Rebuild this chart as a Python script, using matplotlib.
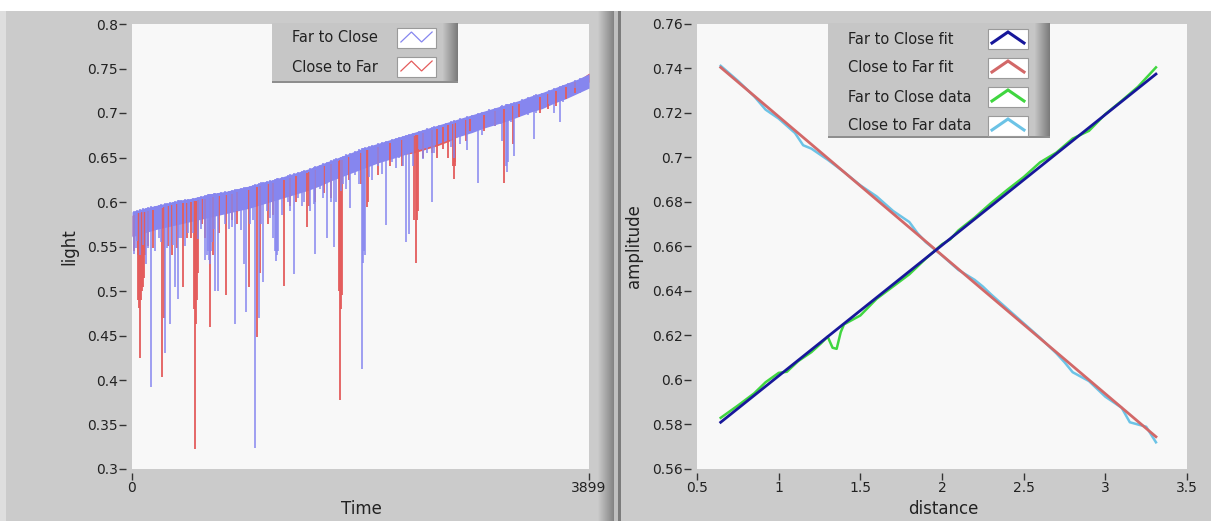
import numpy as np
import matplotlib
matplotlib.use('Agg')
import matplotlib.pyplot as plt
from matplotlib.patches import Rectangle
from matplotlib.lines import Line2D
from matplotlib.ticker import FormatStrFormatter

W, H = 1211, 521

# ---------------- left chart: light vs Time ----------------
band_t = list(range(0, 3900, 100)) + [3899]
# dense oscillation band (upper / lower edge)
f2c_top = [0.589, 0.593, 0.596, 0.599, 0.602, 0.604, 0.607, 0.610, 0.612, 0.615,
           0.618, 0.622, 0.625, 0.629, 0.633, 0.637, 0.642, 0.647, 0.652, 0.657,
           0.662, 0.666, 0.670, 0.674, 0.678, 0.682, 0.686, 0.690, 0.694, 0.698,
           0.702, 0.706, 0.710, 0.714, 0.719, 0.723, 0.728, 0.733, 0.738, 0.744]
f2c_low = [0.561, 0.565, 0.569, 0.572, 0.575, 0.578, 0.581, 0.584, 0.587, 0.590,
           0.593, 0.597, 0.601, 0.605, 0.609, 0.613, 0.618, 0.624, 0.629, 0.634,
           0.639, 0.644, 0.648, 0.652, 0.657, 0.661, 0.665, 0.670, 0.674, 0.678,
           0.683, 0.687, 0.691, 0.696, 0.701, 0.705, 0.711, 0.716, 0.722, 0.728]
c2f_top = [0.585, 0.589, 0.592, 0.595, 0.598, 0.600, 0.603, 0.606, 0.608, 0.611,
           0.614, 0.618, 0.621, 0.625, 0.629, 0.633, 0.638, 0.643, 0.648, 0.653,
           0.658, 0.662, 0.666, 0.670, 0.674, 0.678, 0.682, 0.686, 0.690, 0.694,
           0.698, 0.702, 0.706, 0.710, 0.715, 0.719, 0.724, 0.729, 0.736, 0.745]
c2f_low = [0.562, 0.566, 0.570, 0.573, 0.576, 0.579, 0.582, 0.585, 0.588, 0.591,
           0.594, 0.598, 0.602, 0.606, 0.610, 0.614, 0.619, 0.625, 0.630, 0.635,
           0.640, 0.645, 0.649, 0.653, 0.655, 0.659, 0.663, 0.668, 0.675, 0.679,
           0.684, 0.688, 0.692, 0.697, 0.702, 0.706, 0.712, 0.717, 0.723, 0.735]

# downward spikes (time, minimum)
f2c_dip_t = [17, 45, 120, 165, 200, 230, 279, 300, 324, 365, 393, 420, 450, 480,
             590, 620, 650, 664, 680, 707, 730, 760, 830, 878, 900, 952, 975, 1010,
             1046, 1080, 1117, 1150, 1200, 1231, 1245, 1330, 1379, 1420, 1470, 1520,
             1565, 1600, 1665, 1722, 1740, 1800, 1864, 1900, 1964, 1975, 2050, 2100,
             2163, 2220, 2280, 2334, 2363, 2400, 2450, 2520, 2560, 2620, 2680, 2750,
             2856, 2900, 2955, 3050, 3100, 3161, 3198, 3260, 3330, 3426, 3500, 3560,
             3600, 3654, 3720, 3780,
             30, 70, 95, 140, 250, 350, 400, 520, 560, 700, 790, 850, 930, 1030,
             1100, 1180, 1280, 1350, 1450, 1550, 1630, 1700, 1780, 1830, 1940, 2020,
             2130, 2250, 2310, 2480, 2580, 2720, 2800, 2990, 3150, 3230, 3380, 3450,
             3680, 3820,
             640, 657, 672, 1222, 1238, 1983, 1992, 3190, 3207]
f2c_dip_v = [0.542, 0.556, 0.530, 0.392, 0.545, 0.560, 0.430, 0.548, 0.463, 0.504,
             0.491, 0.560, 0.550, 0.565, 0.570, 0.535, 0.545, 0.530, 0.555, 0.500,
             0.500, 0.585, 0.570, 0.463, 0.590, 0.530, 0.476, 0.575, 0.324, 0.470,
             0.510, 0.590, 0.560, 0.534, 0.545, 0.600, 0.519, 0.605, 0.600, 0.590,
             0.542, 0.615, 0.560, 0.549, 0.600, 0.620, 0.593, 0.630, 0.412, 0.531,
             0.625, 0.640, 0.574, 0.645, 0.650, 0.555, 0.564, 0.640, 0.660, 0.655,
             0.600, 0.665, 0.670, 0.650, 0.658, 0.680, 0.621, 0.690, 0.685, 0.669,
             0.634, 0.652, 0.700, 0.671, 0.712, 0.710, 0.700, 0.690, 0.722, 0.728,
             0.548, 0.540, 0.552, 0.548, 0.555, 0.552, 0.560, 0.565, 0.558, 0.570,
             0.575, 0.572, 0.568, 0.580, 0.575, 0.582, 0.585, 0.590, 0.595, 0.598,
             0.605, 0.600, 0.612, 0.615, 0.620, 0.628, 0.632, 0.638, 0.640, 0.648,
             0.655, 0.662, 0.665, 0.675, 0.688, 0.690, 0.698, 0.700, 0.712, 0.722,
             0.540, 0.535, 0.545, 0.545, 0.540, 0.545, 0.540, 0.640, 0.645]
c2f_dip_t = [50, 60, 66, 75, 85, 103, 140, 258, 270, 340, 436, 470, 500, 536, 545,
             560, 600, 664, 690, 798, 850, 995, 1066, 1090, 1160, 1294, 1400, 1494,
             1510, 1640, 1773, 1780, 1850, 2006, 2015, 2200, 2420, 2430, 2650, 2700,
             2747, 2760, 2880, 3000, 3175, 3250, 3480, 3620, 3700,
             20, 110, 180, 310, 380, 620, 740, 900, 1200, 1350, 1560, 1700, 1950,
             2100, 2300, 2480, 2560, 2600, 2850, 3100, 3300, 3550, 3780,
             55, 92, 528, 552, 1765, 1788, 2410, 2438, 2740, 2755]
c2f_dip_v = [0.540, 0.481, 0.425, 0.490, 0.500, 0.515, 0.550, 0.403, 0.470, 0.540,
             0.504, 0.560, 0.560, 0.3225, 0.463, 0.520, 0.575, 0.459, 0.540, 0.495,
             0.580, 0.504, 0.448, 0.520, 0.575, 0.506, 0.600, 0.572, 0.595, 0.610,
             0.377, 0.480, 0.625, 0.594, 0.600, 0.640, 0.532, 0.580, 0.660, 0.650,
             0.626, 0.640, 0.680, 0.680, 0.621, 0.665, 0.700, 0.708, 0.716,
             0.545, 0.540, 0.548, 0.550, 0.548, 0.560, 0.565, 0.575, 0.585, 0.595,
             0.600, 0.605, 0.620, 0.630, 0.640, 0.650, 0.655, 0.650, 0.668, 0.685,
             0.695, 0.705, 0.722,
             0.490, 0.505, 0.480, 0.490, 0.500, 0.495, 0.580, 0.590, 0.640, 0.645]

# ---------------- right chart: amplitude vs distance ----------------
fit_d = [0.645, 3.31]
f2c_fit = [0.581, 0.7375]
c2f_fit = [0.7405, 0.5745]

f2c_data_d = [0.645, 0.75, 0.85, 0.92, 1.00, 1.05, 1.12, 1.20, 1.26, 1.30, 1.33,
              1.355, 1.38, 1.40, 1.50, 1.60, 1.70, 1.80, 1.90, 2.00, 2.05, 2.10,
              2.20, 2.30, 2.40, 2.50, 2.60, 2.70, 2.80, 2.90, 3.00, 3.10, 3.20, 3.31]
f2c_data_v = [0.5830, 0.5885, 0.5940, 0.5990, 0.6032, 0.6037, 0.6085, 0.6125,
              0.6165, 0.6195, 0.6145, 0.6140, 0.6215, 0.6250, 0.6290, 0.6365,
              0.6420, 0.6475, 0.6545, 0.6610, 0.6632, 0.6672, 0.6730, 0.6795,
              0.6855, 0.6912, 0.6978, 0.7022, 0.7085, 0.7120, 0.7195, 0.7255,
              0.7318, 0.7405]
c2f_data_d = [0.645, 0.75, 0.85, 0.92, 0.97, 1.00, 1.10, 1.15, 1.20, 1.30, 1.40,
              1.50, 1.60, 1.70, 1.75, 1.80, 1.85, 1.90, 2.00, 2.10, 2.20, 2.25,
              2.30, 2.40, 2.50, 2.60, 2.70, 2.75, 2.80, 2.90, 3.00, 3.10, 3.15,
              3.20, 3.25, 3.31]
c2f_data_v = [0.7412, 0.7345, 0.7275, 0.7215, 0.7190, 0.7175, 0.7110, 0.7055,
              0.7040, 0.6990, 0.6935, 0.6875, 0.6825, 0.6760, 0.6735, 0.6710,
              0.6660, 0.6620, 0.6560, 0.6495, 0.6450, 0.6420, 0.6385, 0.6320,
              0.6255, 0.6190, 0.6120, 0.6080, 0.6035, 0.5995, 0.5925, 0.5875,
              0.5810, 0.5800, 0.5790, 0.5720]

BLUE = '#8686ef'
RED = '#e45c5c'
FIT_BLUE = '#17179a'
FIT_RED = '#d26868'
GREEN = '#40d640'
LIGHT_BLUE = '#6cc3e6'

plt.rcParams['font.family'] = ['DejaVu Sans']

fig = plt.figure(figsize=(W / 100, H / 100), dpi=100)
fig.patch.set_facecolor('#cbcbcb')


def fx(x):
    return x / W


def fy(y):
    return 1 - y / H


def box(x0, y0, x1, y1, color, z=1, edge='none', lw=0):
    fig.add_artist(Rectangle((fx(x0), fy(y1)), fx(x1) - fx(x0), fy(y0) - fy(y1),
                             transform=fig.transFigure, facecolor=color,
                             edgecolor=edge, linewidth=lw, zorder=z))


# panel frame decorations (behind the axes)
box(0, 0, W, 11, 'white', z=-1)
box(0, 11, 6, H, '#dedede', z=-1)
for i in range(16):
    g = int(200 - i * 4.5)
    box(598 + i, 11, 599 + i, H, '#%02x%02x%02x' % (g, g, g), z=-1)
box(614, 11, 618, H, '#c0c0c0', z=-1)
box(618, 11, 621, H, '#7c7c7c', z=-1)

axL = fig.add_axes([fx(132), fy(469), fx(589) - fx(132), fy(24) - fy(469)])
axR = fig.add_axes([fx(697), fy(469), fx(1187) - fx(697), fy(24) - fy(469)])

for ax in (axL, axR):
    ax.set_facecolor('#f8f8f8')
    for s in ax.spines.values():
        s.set_color('none')
    ax.spines['left'].set_position(('outward', 4))
    ax.spines['bottom'].set_position(('outward', 3))
    ax.tick_params(direction='out', length=5, width=1, color='#333333',
                   labelsize=10, labelcolor='#222222', pad=1)
    ax.yaxis.set_major_formatter(FormatStrFormatter('%g'))
    ax.xaxis.set_major_formatter(FormatStrFormatter('%g'))

# left chart
axL.fill_between(band_t, c2f_low, c2f_top, color=RED, lw=0)
axL.vlines(c2f_dip_t, c2f_dip_v, np.interp(c2f_dip_t, band_t, c2f_top), color=RED, lw=1.3)
axL.fill_between(band_t, f2c_low, f2c_top, color=BLUE, lw=0)
axL.vlines(f2c_dip_t, f2c_dip_v, np.interp(f2c_dip_t, band_t, f2c_top), color=BLUE, lw=1.1)
axL.set_xlim(0, 3899)
axL.set_ylim(0.3, 0.8)
axL.set_xticks([0, 3899])
axL.set_yticks(np.arange(0.3, 0.801, 0.05))
axL.set_ylabel('light', fontsize=12, va='center', color='#222222')
axL.yaxis.set_label_coords(fx(69), fy(247), transform=fig.transFigure)
axL.set_xlabel('Time', fontsize=12, va='center', color='#222222')
axL.xaxis.set_label_coords(fx(361), fy(509), transform=fig.transFigure)

# right chart
axR.plot(c2f_data_d, c2f_data_v, color=LIGHT_BLUE, lw=1.8)
axR.plot(f2c_data_d, f2c_data_v, color=GREEN, lw=1.8)
axR.plot(fit_d, c2f_fit, color=FIT_RED, lw=2)
axR.plot(fit_d, f2c_fit, color=FIT_BLUE, lw=2)
axR.set_xlim(0.5, 3.5)
axR.set_ylim(0.56, 0.76)
axR.set_xticks(np.arange(0.5, 3.51, 0.5))
axR.set_yticks(np.arange(0.56, 0.761, 0.02))
axR.set_ylabel('amplitude', fontsize=12, va='center', color='#222222')
axR.yaxis.set_label_coords(fx(634), fy(246), transform=fig.transFigure)
axR.set_xlabel('distance', fontsize=12, va='center', color='#222222')
axR.xaxis.set_label_coords(fx(943), fy(509), transform=fig.transFigure)


# LabVIEW style legends
def legend(x0, y0, x1, y1, labels, colors, rows_y, text_x, sx0, sx1, shape, lw):
    box(x0, y0, x1, y1, '#c6c6c6', z=5)
    for i in range(16):
        g = int(198 - i * 5)
        box(x1 - 16 + i, y0, x1 - 15 + i, y1, '#%02x%02x%02x' % (g, g, g), z=5)
    box(x0, y1 - 2, x1, y1, '#8e8e8e', z=5)
    for lab, col, yc in zip(labels, colors, rows_y):
        fig.text(fx(text_x), fy(yc), lab, fontsize=10.5, color='#222222',
                 ha='left', va='center', zorder=6)
        box(sx0, yc - 10, sx1, yc + 10, 'white', z=6, edge='#9a9a9a', lw=0.8)
        xs = [fx(sx0 + (sx1 - sx0) * p[0]) for p in shape]
        ys = [fy(yc + 10 - 20 * p[1]) for p in shape]
        fig.add_artist(Line2D(xs, ys, color=col, lw=lw, transform=fig.transFigure,
                              zorder=7, solid_joinstyle='miter'))


legend(272, 23, 458, 83, ['Far to Close', 'Close to Far'], [BLUE, RED], [38, 67],
       292, 397, 436, [(0.1, 0.3), (0.37, 0.8), (0.63, 0.3), (0.9, 0.8)], 0.9)
legend(828, 23, 1050, 138,
       ['Far to Close fit', 'Close to Far fit', 'Far to Close data', 'Close to Far data'],
       [FIT_BLUE, FIT_RED, GREEN, LIGHT_BLUE], [39, 68, 97, 126],
       848, 988, 1028, [(0.1, 0.3), (0.5, 0.85), (0.9, 0.3)], 2.2)

fig.savefig('out.png', dpi=100, facecolor=fig.get_facecolor())
